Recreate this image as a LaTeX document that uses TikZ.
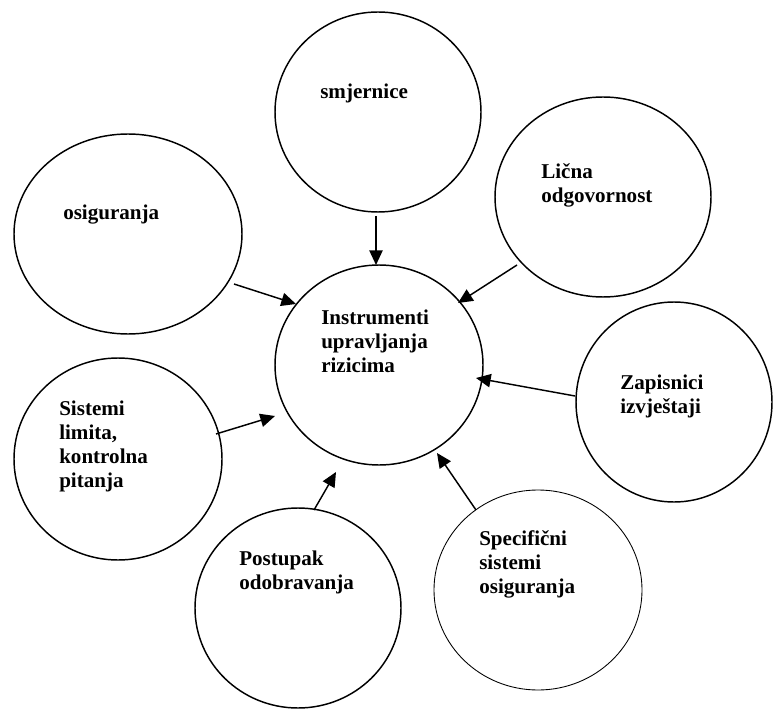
\documentclass[tikz,border=0pt]{standalone}
\usepackage{fontspec}
\setmainfont{Liberation Serif}
\usetikzlibrary{shapes.geometric,arrows.meta}

\begin{document}
\begin{tikzpicture}[x=0.75pt,y=-0.75pt,
  bub/.style 2 args={ellipse, draw, line width=1.1pt, inner sep=0pt,
    minimum width=#1*1.5pt, minimum height=#2*1.5pt},
  thinbub/.style={line width=0.65pt},
  lbl/.style={anchor=west, align=left, inner sep=0pt,
    font=\fontsize{15.8}{18}\selectfont\bfseries},
  arr/.style={line width=1.1pt, -{Triangle[length=11pt,width=10pt]}}]

\useasboundingbox (0,0) rectangle (774,709);

% bubbles
\node[bub={104}{100}] (instr) at (379,365) {};
\node[bub={103}{100}] (smj)   at (378,112) {};
\node[bub={114}{100}] (osig)  at (128,234) {};
\node[bub={108}{100}] (lic)   at (603,197) {};
\node[bub={98}{100}]  (zap)   at (674,402) {};
\node[bub={104}{101}] (sist)  at (118,459) {};
\node[bub={103}{100}] (post)  at (298,608) {};
\node[bub={104}{100},thinbub] (spec) at (538,590) {};

% labels
\node[lbl] (tinstr) at (321,341) {Instrumenti\\upravljanja\\rizicima};
\node[lbl] (tsmj)   at (320,93.5) {smjernice};
\node[lbl] (tosig)  at (63,215) {osiguranja};
\node[lbl] (tlic)   at (541,185) {Lična\\odgovornost};
\node[lbl] (tzap)   at (620,396.5) {Zapisnici\\izvještaji};
\node[lbl] (tsist)  at (59,446.5) {Sistemi\\limita,\\kontrolna\\pitanja};
\node[lbl] (tpost)  at (239,572.5) {Postupak\\odobravanja};
\node[lbl] (tspec)  at (479,564) {Specifični\\sistemi\\osiguranja};

% arrow end points
\coordinate (smjA) at (376,216);  \coordinate (smjB) at (376,265);
\coordinate (osigA) at (234,284); \coordinate (osigB) at (296,304);
\coordinate (licA) at (517,265);  \coordinate (licB) at (458,303);
\coordinate (zapA) at (575,396);  \coordinate (zapB) at (476,378);
\coordinate (sistA) at (216,434); \coordinate (sistB) at (275,416);
\coordinate (postA) at (314,510); \coordinate (postB) at (336,472);
\coordinate (specA) at (476,510); \coordinate (specB) at (437,453);

% arrows into the central bubble
\draw[arr] (smjA) -- (smjB);
\draw[arr] (osigA) -- (osigB);
\draw[arr] (licA) -- (licB);
\draw[arr] (zapA) -- (zapB);
\draw[arr] (sistA) -- (sistB);
\draw[arr] (postA) -- (postB);
\draw[arr] (specA) -- (specB);
\end{tikzpicture}
\end{document}
